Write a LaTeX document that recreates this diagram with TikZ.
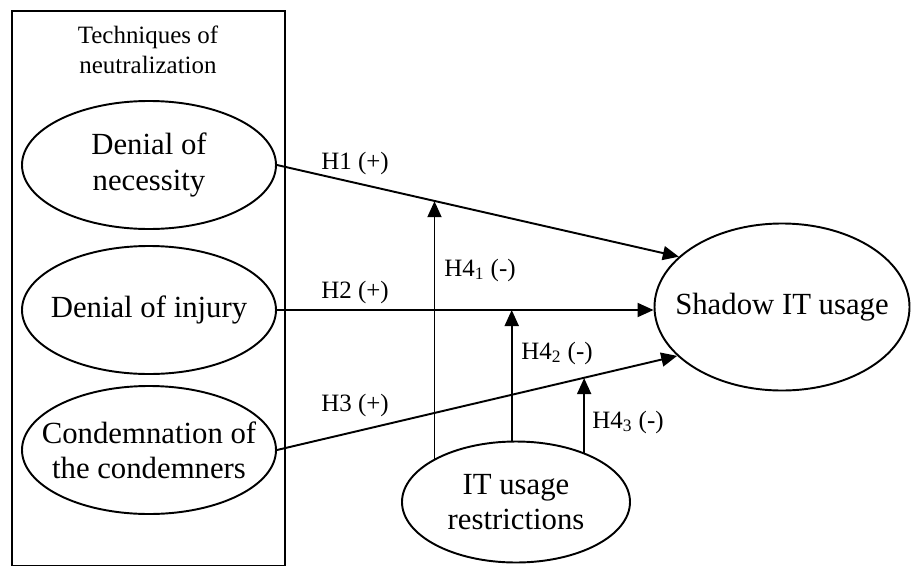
\documentclass[tikz,border=0pt]{standalone}
\usepackage{fontspec}
\setmainfont{Liberation Serif}
\usetikzlibrary{shapes,arrows.meta,positioning,calc}
\newlength{\px}
\setlength{\px}{0.02cm}
\tikzstyle{construct}=[draw,ellipse,line width=1.1pt,inner sep=0pt]
\tikzstyle{ctext}=[align=center,inner sep=0pt,font=\fontsize{17.5}{20}\selectfont]
\tikzstyle{group}=[draw,rectangle,line width=1.1pt,anchor=north west]
\tikzstyle{hyp}=[align=center,inner sep=0pt,font=\fontsize{14.2}{17}\selectfont]
\tikzstyle{arrow}=[draw,line width=1.1pt,-{Triangle[length=0.32cm,width=0.28cm]}]

\begin{document}
\begin{tikzpicture}[x=\px,y=-\px]
  \useasboundingbox (0,0) rectangle (912,565);

  \node[group,minimum width=273\px,minimum height=555\px] at (11,10) (tech) {};
  \node[hyp] at (148,50) (techlbl) {Techniques of\\neutralization};

  \node[construct,minimum width=254\px,minimum height=128\px] at (149,165) (necess) {};
  \node[ctext] at (necess) (necess-t) {Denial of\\necessity};
  \node[construct,minimum width=254\px,minimum height=128\px] at (149,310) (injury) {};
  \node[ctext] at (injury) (injury-t) {Denial of injury};
  \node[construct,minimum width=254\px,minimum height=128\px] at (149,450) (condemn) {};
  \node[ctext] at (condemn) (condemn-t) {Condemnation of\\the condemners};

  \node[construct,minimum width=255\px,minimum height=167\px] at (782,307) (shadow) {};
  \node[ctext] at (shadow) (shadow-t) {Shadow IT usage};

  \node[construct,minimum width=228\px,minimum height=121\px] at (516,502) (restr) {};
  \node[ctext] at (restr) (restr-t) {IT usage\\restrictions};

  \draw[arrow] (necess.east) -- (shadow.154) coordinate[pos=0.395] (m1);
  \draw[arrow] (injury.east) -- (injury.east-|shadow.west);
  \draw[arrow] (condemn.east) -- (shadow.205) coordinate[pos=0.764] (m3);

  \draw[arrow] (restr.152) -- (restr.152|-m1);
  \draw[arrow] (restr.94) -- (restr.94|-injury.east);
  \draw[arrow] (restr.36) -- (restr.36|-m3);

  \node[hyp] at (355,163) (h1) {H1 (+)};
  \node[hyp] at (355,292) (h2) {H2 (+)};
  \node[hyp] at (355,405) (h3) {H3 (+)};
  \node[hyp] at (480,270) (h41) {H4\textsubscript{1} (-)};
  \node[hyp] at (557,353) (h42) {H4\textsubscript{2} (-)};
  \node[hyp] at (628,422) (h43) {H4\textsubscript{3} (-)};

\end{tikzpicture}
\end{document}
